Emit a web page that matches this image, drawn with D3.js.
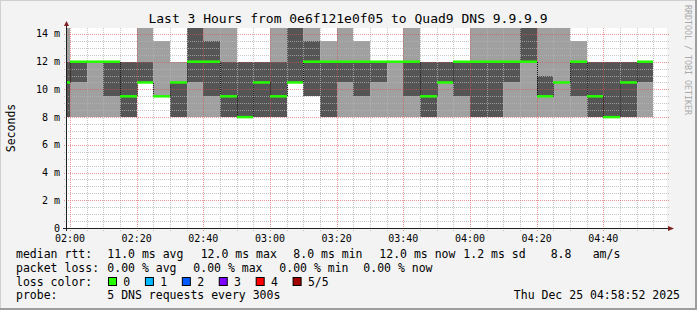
<!DOCTYPE html>
<html>
<head>
<meta charset="utf-8">
<script src="https://cdn.jsdelivr.net/npm/d3@7"></script>
<style>
  body { margin: 0; background: #f3f3f3; }
  svg text { font-family: "DejaVu Sans Mono", monospace; }
</style>
</head>
<body>
<svg id="chart" width="697" height="310"></svg>
<script>
// Smokeping style latency graph, 5 pings per 5 minute step (ms)
const stepStarts = [
    '01:55', '02:00', '02:05', '02:10', '02:15', '02:20', '02:25', '02:30', '02:35',
    '02:40', '02:45', '02:50', '02:55', '03:00', '03:05', '03:10', '03:15', '03:20',
    '03:25', '03:30', '03:35', '03:40', '03:45', '03:50', '03:55', '04:00', '04:05',
    '04:10', '04:15', '04:20', '04:25', '04:30', '04:35', '04:40', '04:45', '04:50'
];
// sorted pings: min, 2nd, median, 4th, max (values above the top are clipped)
const pingMin  = [8, 8, 8, 8, 8, 10.5, 9.5, 8, 8, 8, 8, 8, 8, 8, 10.5, 9.5, 8, 8,
                  8, 8, 8, 8, 8, 8, 8, 8, 8, 8, 8, 8, 8, 8, 8, 8, 8, 8];
const pingLow  = [8, 10.5, 12, 9.5, 8, 10.5, 9.5, 8, 10.5, 9.5, 8, 8, 8, 8, 10.5, 9.5, 8, 10.5,
                  9.5, 10.5, 12, 9.5, 8, 10.5, 9.5, 8, 8, 10.5, 12, 9.5, 10.5, 9.5, 8, 8, 8, 10.5];
const median   = [10.5, 12, 12, 12, 9.5, 10.5, 9.5, 10.5, 12, 12, 9.5, 8, 10.5, 9.5, 10.5, 12, 12, 12,
                  12, 12, 12, 12, 9.5, 10.5, 12, 12, 12, 12, 12, 9.5, 10.5, 12, 9.5, 8, 10.5, 12];
const pingHigh = [12, 12, 12, 12, 12, 12, 9.5, 10.5, 15, 13.5, 12, 12, 12, 12, 15, 13.5, 12, 12,
                  12, 12, 12, 12, 12, 12, 12, 12, 12, 12, 15, 11, 10.5, 12, 12, 12, 12, 12];
const pingMax  = [15, 12, 12, 12, 12, 15, 13.5, 12, 15, 15, 15, 12, 12, 15, 15, 15, 13.5, 15,
                  13.5, 12, 12, 15, 12, 12, 12, 15, 15, 15, 15, 15, 15, 13.5, 12, 12, 12, 12];

const yTicks = [0, 2, 4, 6, 8, 10, 12, 14];
const lossLabels = ['0', '1', '2', '3', '4', '5/5'];
const lossColors = ['#26ff00', '#00b8ff', '#0059ff', '#7e00ff', '#ff0000', '#a10000'];

const titleText = 'Last 3 Hours from 0e6f121e0f05 to Quad9 DNS 9.9.9.9';
const rttLegend = ['median rtt:', '11.0 ms avg', '12.0 ms max', '8.0 ms min', '12.0 ms now', '1.2 ms sd', '8.8', 'am/s'];
const lossLegend = ['packet loss:', '0.00 % avg', '0.00 % max', '0.00 % min', '0.00 % now'];
const probeLegend = ['probe:', '5 DNS requests every 300s'];
const stampText = 'Thu Dec 25 04:58:52 2025';

const W = 697, H = 310;
const plot = { left: 67, top: 28, right: 667, bottom: 228 };

const parse = s => {
    const [h, m] = s.split(':').map(Number);
    return new Date(2025, 11, 25, h, m);
};
const times = stepStarts.map(parse);
const stepMs = 5 * 60 * 1000;

const svg = d3.select('#chart');
const defs = svg.append('defs');

// dotted patterns for the grid (1px on, 1px off)
function dotPattern(id, color, horizontal) {
    const p = defs.append('pattern')
        .attr('id', id)
        .attr('patternUnits', 'userSpaceOnUse')
        .attr('width', horizontal ? 2 : 1)
        .attr('height', horizontal ? 1 : 2);
    p.append('rect').attr('width', 1).attr('height', 1).attr('fill', color);
}
dotPattern('hMinor', 'rgba(180,180,180,0.75)', true);
dotPattern('vMinor', 'rgba(180,180,180,0.75)', false);
dotPattern('hMajor', 'rgba(222,80,80,0.6)', true);
dotPattern('vMajor', 'rgba(222,80,80,0.6)', false);

// background + frame
svg.append('rect').attr('width', W).attr('height', H).attr('fill', '#f3f3f3');
svg.append('rect').attr('x', 0).attr('y', 0).attr('width', W).attr('height', 1).attr('fill', '#d0d0d0');
svg.append('rect').attr('x', 0).attr('y', 0).attr('width', 1).attr('height', H).attr('fill', '#d0d0d0');
svg.append('rect').attr('x', W - 2).attr('y', 0).attr('width', 2).attr('height', H).attr('fill', '#9e9e9e');
svg.append('rect').attr('x', 0).attr('y', H - 2).attr('width', W).attr('height', 2).attr('fill', '#9e9e9e');

const x = d3.scaleTime()
    .domain([parse('01:59'), parse('04:59')])
    .range([66.67, 666.67]);

const y = d3.scaleLinear()
    .domain([0, 14.43])
    .range([plot.bottom, plot.top])
    .clamp(true);

defs.append('clipPath').attr('id', 'plotClip')
    .append('rect')
    .attr('x', plot.left).attr('y', plot.top)
    .attr('width', plot.right - plot.left).attr('height', plot.bottom - plot.top);

svg.append('rect')
    .attr('x', plot.left).attr('y', plot.top)
    .attr('width', plot.right - plot.left).attr('height', plot.bottom - plot.top)
    .attr('fill', '#fff');

const data = times.map((t, i) => ({
    t, min: pingMin[i], low: pingLow[i], med: median[i], high: pingHigh[i], max: pingMax[i]
}));

const px = t => Math.round(x(t));
const py = v => Math.round(y(v));
const colX = d => px(d.t);
const colW = d => px(new Date(+d.t + stepMs)) - px(d.t);

const smoke = svg.append('g').attr('clip-path', 'url(#plotClip)');

// outer band: min..max
smoke.selectAll('rect.outer')
    .data(data)
    .join('rect')
    .attr('class', 'outer')
    .attr('x', colX)
    .attr('width', colW)
    .attr('y', d => py(d.max))
    .attr('height', d => py(d.min) - py(d.max))
    .attr('fill', '#a0a0a0');

// inner band: 2nd..4th
smoke.selectAll('rect.inner')
    .data(data)
    .join('rect')
    .attr('class', 'inner')
    .attr('x', colX)
    .attr('width', colW)
    .attr('y', d => py(d.high))
    .attr('height', d => py(d.low) - py(d.high))
    .attr('fill', '#555555');

// grid on top of the smoke, like rrdtool
const grid = svg.append('g');
const minorY = d3.range(0.5, 14.01, 0.5).filter(v => v % 2 !== 0);
const majorY = yTicks.filter(v => v > 0);
const minorX = d3.timeMinute.every(5).range(parse('02:00'), parse('04:59'))
    .filter(t => t.getMinutes() % 20 !== 0);
const majorX = d3.timeMinute.every(20).range(parse('02:00'), parse('04:59'));

grid.selectAll('rect.hminor')
    .data(minorY)
    .join('rect')
    .attr('class', 'hminor')
    .attr('x', plot.left - 3).attr('width', plot.right - plot.left + 5)
    .attr('y', py).attr('height', 1)
    .attr('fill', 'url(#hMinor)');

grid.selectAll('rect.vminor')
    .data(minorX)
    .join('rect')
    .attr('class', 'vminor')
    .attr('x', px).attr('width', 1)
    .attr('y', plot.top).attr('height', plot.bottom - plot.top + 3)
    .attr('fill', 'url(#vMinor)');

grid.selectAll('rect.hmajor')
    .data(majorY)
    .join('rect')
    .attr('class', 'hmajor')
    .attr('x', plot.left - 4).attr('width', plot.right - plot.left + 6)
    .attr('y', py).attr('height', 1)
    .attr('fill', 'url(#hMajor)');

grid.selectAll('rect.vmajor')
    .data(majorX)
    .join('rect')
    .attr('class', 'vmajor')
    .attr('x', px).attr('width', 1)
    .attr('y', plot.top).attr('height', plot.bottom - plot.top + 3)
    .attr('fill', 'url(#vMajor)');

// median: dark step line for the jumps, loss coloured segments on top
const medPts = data.map(d => [px(d.t), y(d.med)]);
const last = data[data.length - 1];
medPts.push([px(new Date(+last.t + stepMs)), y(last.med)]);

const medGroup = svg.append('g').attr('clip-path', 'url(#plotClip)');
medGroup.append('path')
    .attr('d', d3.line().curve(d3.curveStepAfter)(medPts.map(p => [p[0] + 0.5, p[1]])))
    .attr('fill', 'none')
    .attr('stroke', '#111')
    .attr('stroke-width', 1)
    .attr('stroke-dasharray', '1,1');

medGroup.selectAll('line.med')
    .data(data)
    .join('line')
    .attr('class', 'med')
    .attr('x1', colX)
    .attr('x2', d => colX(d) + colW(d))
    .attr('y1', d => y(d.med))
    .attr('y2', d => y(d.med))
    .attr('stroke', lossColors[0])
    .attr('stroke-width', 2.5);

// axes
const axisColor = '#1f1f1f';
const arrowColor = '#7f1f1f';
svg.append('rect')
    .attr('x', plot.left - 4).attr('y', plot.bottom)
    .attr('width', plot.right - plot.left + 6).attr('height', 1)
    .attr('fill', axisColor);
svg.append('rect')
    .attr('x', plot.left - 1).attr('y', plot.top - 3)
    .attr('width', 1).attr('height', plot.bottom - plot.top + 6)
    .attr('fill', axisColor);
svg.append('path')
    .attr('d', `M${plot.right + 1},${plot.bottom - 2} L${plot.right + 7},${plot.bottom + 0.5} L${plot.right + 1},${plot.bottom + 3} Z`)
    .attr('fill', arrowColor);
svg.append('path')
    .attr('d', `M${plot.left - 3},${plot.top - 2} L${plot.left - 0.5},${plot.top - 7} L${plot.left + 2},${plot.top - 2} Z`)
    .attr('fill', arrowColor);

// tick labels
svg.selectAll('text.ylab')
    .data(yTicks)
    .join('text')
    .attr('class', 'ylab')
    .attr('x', 60)
    .attr('y', d => y(d) + 3.5)
    .attr('text-anchor', 'end')
    .attr('font-size', '10px')
    .attr('fill', '#000')
    .text(d => d === 0 ? '0' : `${d} m`);

svg.selectAll('text.xlab')
    .data(majorX)
    .join('text')
    .attr('class', 'xlab')
    .attr('x', d => x(d))
    .attr('y', 242)
    .attr('text-anchor', 'middle')
    .attr('font-size', '10px')
    .attr('fill', '#000')
    .text(d3.timeFormat('%H:%M'));

// title, axis label, watermark
svg.append('text')
    .attr('x', 348)
    .attr('y', 23)
    .attr('text-anchor', 'middle')
    .attr('font-size', '13px')
    .text(titleText);

svg.append('text')
    .attr('transform', 'translate(15,128) rotate(-90)')
    .attr('text-anchor', 'middle')
    .attr('font-size', '11.5px')
    .text('Seconds');

svg.append('text')
    .attr('transform', 'translate(685,5) rotate(90)')
    .attr('font-size', '8.3px')
    .attr('fill', '#aaaaaa')
    .text('RRDTOOL / TOBI OETIKER');

// legend
const legend = svg.append('g').attr('font-size', '11.5px').attr('fill', '#000');
const rttX = [16, 107.3, 200.7, 293.3, 379.3, 463.3, 550.7, 592.7];
rttLegend.forEach((s, i) => {
    legend.append('text').attr('x', rttX[i]).attr('y', 258).text(s);
});
const lossX = [16, 107.3, 193.3, 279.3, 363.3];
lossLegend.forEach((s, i) => {
    legend.append('text').attr('x', lossX[i]).attr('y', 272).text(s);
});
legend.append('text').attr('x', 16).attr('y', 285.5).text('loss color:');
lossLabels.forEach((s, i) => {
    const bx = 108.5 + i * 36.92;
    legend.append('rect')
        .attr('x', bx).attr('y', 277.5)
        .attr('width', 8).attr('height', 8)
        .attr('fill', lossColors[i])
        .attr('stroke', '#000');
    legend.append('text').attr('x', bx + 14.8).attr('y', 285.5).text(s);
});
legend.append('text').attr('x', 16).attr('y', 299).text(probeLegend[0]);
legend.append('text').attr('x', 107.3).attr('y', 299).text(probeLegend[1]);
legend.append('text').attr('x', 680).attr('y', 299).attr('text-anchor', 'end').text(stampText);
</script>
</body>
</html>
